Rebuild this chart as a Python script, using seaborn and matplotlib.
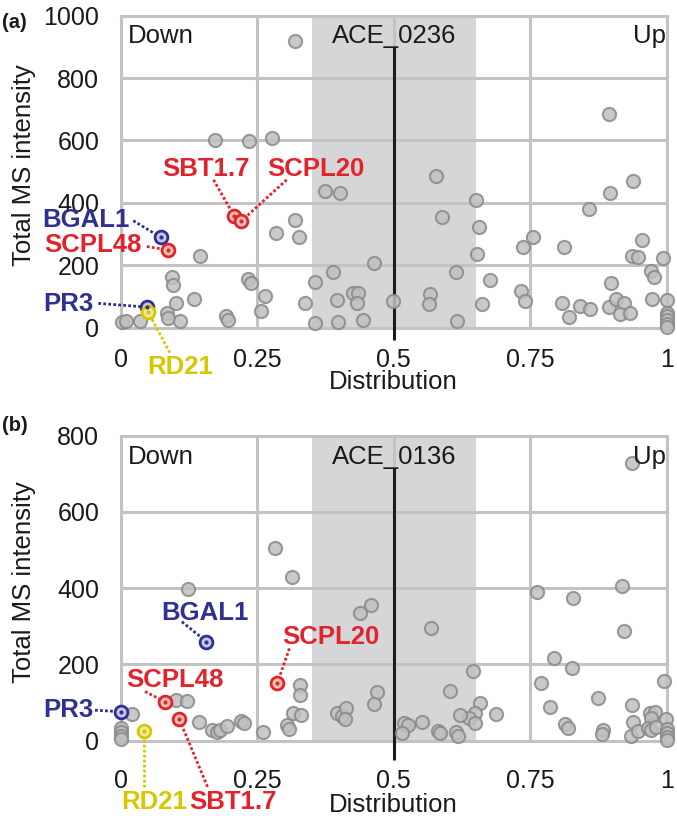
import matplotlib
matplotlib.use("Agg")
import matplotlib.pyplot as plt
import seaborn as sns
import pandas as pd

# ---------------- data ----------------
# panel (a): ACE_0236
a_x = [0.002, 0.010, 0.035, 0.084, 0.086, 0.094, 0.095, 0.101, 0.108, 0.135, 0.145, 0.193, 0.197,
       0.173, 0.235, 0.234, 0.238, 0.264, 0.257, 0.277, 0.319, 0.319, 0.285, 0.327, 0.337, 0.356,
       0.356, 0.374, 0.401, 0.388, 0.396, 0.398, 0.426, 0.435, 0.432, 0.443, 0.463, 0.498,
       0.578, 0.589, 0.650, 0.656, 0.653, 0.614, 0.676, 0.567, 0.564, 0.662, 0.616,
       0.736, 0.755, 0.734, 0.740,
       0.894, 0.938, 0.897, 0.857, 0.811, 0.955, 0.937, 0.947, 0.994, 0.972, 0.976, 0.898, 0.973,
       1.0, 1.0, 1.0, 1.0, 1.0, 1.0,
       0.809, 0.821, 0.842, 0.860, 0.894, 0.908, 0.921, 0.914, 0.932]
a_y = [19, 20, 22, 46, 31, 164, 137, 78, 22, 92, 230, 38, 25,
       600, 597, 155, 144, 102, 55, 608, 918, 344, 303, 290, 78, 146,
       16, 437, 431, 180, 89, 18, 112, 112, 78, 25, 207, 87,
       485, 354, 410, 324, 236, 178, 154, 108, 76, 76, 21,
       258, 292, 118, 87,
       686, 469, 433, 380, 258, 282, 230, 228, 223, 183, 161, 143, 91,
       89, 48, 36, 24, 12, 3,
       80, 35, 70, 61, 65, 92, 78, 44, 46]

# panel (b): ACE_0136
b_x = [0.0, 0.0, 0.0, 0.0, 0.021, 0.101, 0.121, 0.124, 0.143, 0.167, 0.177, 0.181, 0.194, 0.221,
       0.225, 0.261, 0.282, 0.313, 0.328, 0.328, 0.304, 0.309, 0.315, 0.330,
       0.438, 0.458, 0.396, 0.405, 0.412, 0.410, 0.470, 0.464,
       0.568, 0.645, 0.603, 0.658, 0.649, 0.637, 0.621, 0.648, 0.688, 0.551, 0.518, 0.527,
       0.515, 0.582, 0.585, 0.614, 0.617,
       0.937, 0.762, 0.829, 0.918, 0.922, 0.794, 0.827, 0.769, 0.995, 0.787, 0.875, 0.936,
       0.814, 0.819, 0.884, 0.881, 0.935, 0.938, 0.948, 0.969, 0.978, 0.972, 0.966, 0.972,
       0.980, 0.998, 1.0, 1.0, 1.0, 1.0]
b_y = [34, 22, 12, 4, 69, 107, 104, 397, 50, 28, 24, 27, 39, 51,
       47, 24, 505, 430, 147, 121, 41, 31, 72, 67,
       336, 356, 72, 66, 85, 58, 128, 97,
       295, 184, 131, 98, 72, 59, 68, 46, 71, 50, 46, 41,
       19, 25, 19, 24, 12,
       728, 391, 375, 407, 288, 216, 191, 151, 157, 88, 111, 93,
       43, 34, 29, 18, 13, 50, 26, 72, 76, 59, 32, 28,
       37, 58, 30, 20, 10, 2]

# highlighted genes
genes = ["BGAL1", "SCPL48", "PR3", "RD21", "SBT1.7", "SCPL20"]
a_hx = [0.073, 0.087, 0.049, 0.050, 0.208, 0.221]
a_hy = [290, 249, 66, 51, 357, 342]
b_hx = [0.157, 0.081, 0.0, 0.043, 0.107, 0.287]
b_hy = [260, 102, 76, 25, 57, 152]

sample_names = ["ACE_0236", "ACE_0136"]
panel_tags = ["(a)", "(b)"]
x_ticks = [0, 0.25, 0.5, 0.75, 1]
x_tick_labels = ["0", "0.25", "0.5", "0.75", "1"]
a_yticks = [0, 200, 400, 600, 800, 1000]
b_yticks = [0, 200, 400, 600, 800]
band = (0.35, 0.65)

# ---------------- style ----------------
RED = "#e3232b"
BLUE = "#2e3192"
YEL = "#d6c800"
gene_color = {"BGAL1": BLUE, "SCPL48": RED, "PR3": BLUE, "RD21": YEL,
              "SBT1.7": RED, "SCPL20": RED}
gene_face = {RED: "#f7c2b4", BLUE: "#c9c9e6", YEL: "#efe9a6"}
GRID = "#c3c3c3"
BAND = "#d6d6d8"

sns.set_style("white")
plt.rcParams["font.family"] = ["Liberation Sans", "DejaVu Sans"]

fig = plt.figure(figsize=(6.77, 8.16), dpi=100)

# label layout: (text x, text y, ha, leader start x, leader start y)
layout_a = {
    "BGAL1": (0.017, 346, "right", 0.023, 343),
    "SCPL48": (0.038, 265, "right", 0.048, 260),
    "PR3": (-0.050, 76, "right", -0.041, 78),
    "RD21": (0.109, -125, "center", 0.090, -80),
    "SBT1.7": (0.157, 509, "center", 0.170, 474),
    "SCPL20": (0.358, 509, "center", 0.304, 474),
}
layout_b = {
    "BGAL1": (0.154, 336, "center", 0.112, 312),
    "SCPL48": (0.100, 159, "center", 0.0445, 129),
    "PR3": (-0.050, 80, "right", -0.047, 80),
    "RD21": (0.061, -160, "center", 0.043, -121),
    "SBT1.7": (0.205, -160, "center", 0.159, -121),
    "SCPL20": (0.385, 273, "center", 0.309, 242),
}

panels = [
    dict(rect=[0.1783, 0.5984, 0.8065, 0.3824], x=a_x, y=a_y, hx=a_hx, hy=a_hy,
         ymax=1000, yticks=a_yticks, layout=layout_a, vtop=898, vbot=-40,
         base=911, xtick_len=7.9, xpad=7.0, xlab_y=-0.135, tag_y=0.973),
    dict(rect=[0.1783, 0.0923, 0.8065, 0.3738], x=b_x, y=b_y, hx=b_hx, hy=b_hy,
         ymax=800, yticks=b_yticks, layout=layout_b, vtop=714, vbot=-51,
         base=726, xtick_len=12.2, xpad=8.0, xlab_y=-0.172, tag_y=0.479),
]

for i, p in enumerate(panels):
    ax = fig.add_axes(p["rect"])
    ax.set_xlim(0, 1)
    ax.set_ylim(0, p["ymax"])
    ax.axvspan(band[0], band[1], color=BAND, zorder=0.2, lw=0)
    ax.set_axisbelow(True)
    ax.grid(True, color=GRID, lw=2.2)
    for s in ax.spines.values():
        s.set_color(GRID)
        s.set_linewidth(2.2)
        s.set_zorder(0.6)
    ax.set_xticks(x_ticks)
    ax.set_xticklabels(x_tick_labels)
    ax.set_yticks(p["yticks"])
    ax.set_yticklabels([str(v) for v in p["yticks"]])
    ax.tick_params(axis="y", direction="out", length=8.9, width=2.2, color=GRID,
                   pad=6.5, labelsize=18, labelcolor="#1a1a1a")
    ax.tick_params(axis="x", direction="out", length=p["xtick_len"], width=2.2, color=GRID,
                   pad=p["xpad"], labelsize=18, labelcolor="#1a1a1a")

    # vertical reference line at 0.5
    ax.plot([0.5, 0.5], [p["vbot"], p["vtop"]], color="#1c1c1c", lw=2.2,
            clip_on=False, zorder=3, solid_capstyle="butt")

    df = pd.DataFrame({"Distribution": p["x"], "Total MS intensity": p["y"]})
    sns.scatterplot(data=df, x="Distribution", y="Total MS intensity", ax=ax,
                    s=90, color="#c0c0c0", edgecolor="#8a8a8a", linewidth=1.5,
                    alpha=0.85, clip_on=False, zorder=4, legend=False)

    # highlighted genes
    for g, hx, hy in zip(genes, p["hx"], p["hy"]):
        c = gene_color[g]
        tx, ty, ha, lx, ly = p["layout"][g]
        ax.plot([lx, hx], [ly, hy], color=c, lw=2.0, ls=(0, (1, 0.8)),
                clip_on=False, zorder=5)
        ax.scatter([hx], [hy], s=85, facecolor=gene_face[c], edgecolor=c,
                   linewidth=2.0, clip_on=False, zorder=6)
        ax.scatter([hx], [hy], s=4, color=c, clip_on=False, zorder=7)
        ax.text(tx, ty, g, color=c, fontsize=18.5, fontweight="bold", ha=ha,
                va="center", zorder=8, clip_on=False)

    # top annotations
    ax.text(0.014, p["base"], "Down", fontsize=18.5, ha="left", va="baseline",
            color="#1a1a1a", zorder=8)
    ax.text(0.5, p["base"], sample_names[i], fontsize=18.5, ha="center", va="baseline",
            color="#1a1a1a", zorder=8)
    ax.text(0.998, p["base"], "Up", fontsize=18.5, ha="right", va="baseline",
            color="#1a1a1a", zorder=8)

    ax.set_xlabel("Distribution", fontsize=18.5, color="#1a1a1a")
    ax.set_ylabel("Total MS intensity", fontsize=18.5, color="#1a1a1a")
    ax.xaxis.set_label_coords(0.5, p["xlab_y"])
    ax.yaxis.set_label_coords(-0.155, 0.52)

    fig.text(0.003, p["tag_y"], panel_tags[i], fontsize=14.5, fontweight="bold",
             ha="left", va="center", color="#1a1a1a")

fig.savefig("out.png", dpi=100)
